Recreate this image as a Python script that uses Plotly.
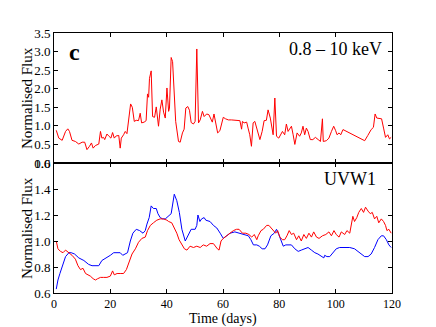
"""
Two-panel light curve: X-ray (0.8-10 keV) on top, UVW1 vs X-ray on bottom.
"""

import plotly.graph_objects as go

# Top panel: X-ray light curve
XRAY_T = [
    0.8, 1.7, 2.9, 4.1, 4.9, 5.5, 6.4, 7.6, 8.8, 10.0, 10.9, 11.7, 12.6, 13.3, 13.9, 14.7,
    15.9, 16.5, 17.0, 17.6, 18.0, 18.8, 19.4, 20.2, 20.8, 21.4, 22.1, 23.0, 23.5, 23.9,
    24.7, 25.3, 25.9, 26.5, 27.2, 27.8, 28.5, 29.2, 30.0, 30.6, 31.1, 32.0, 32.7, 33.2,
    33.6, 33.9, 34.5, 35.0, 35.7, 36.3, 37.1, 37.7, 38.3, 38.9, 39.5, 40.1, 40.7, 41.0,
    41.6, 42.1, 42.7, 43.2, 44.2, 44.8, 45.6, 46.2, 46.8, 47.5, 48.1, 48.7, 49.5, 50.1,
    50.7, 51.3, 51.9, 52.7, 53.3, 54.2, 55.0, 55.6, 56.2, 56.8, 57.4, 58.1, 58.9, 59.5,
    60.1, 60.9, 61.9, 63.0, 64.2, 65.4, 66.0, 66.6, 66.9, 67.5, 68.4, 68.9, 69.5, 70.1,
    70.7, 71.3, 72.3, 73.1, 73.9, 74.6, 75.4, 76.0, 76.8, 77.8, 78.4, 79.0, 79.8, 80.7,
    81.1, 81.9, 82.5, 83.1, 83.7, 84.3, 84.9, 85.5, 86.3, 87.2, 87.8, 88.4, 89.0, 89.6,
    90.2, 91.0, 91.9, 92.8, 93.8, 94.6, 95.3, 95.6, 96.7, 97.6, 98.5, 99.3, 100.0, 100.5,
    101.2, 101.8, 102.6, 103.8, 105.5, 107.9, 110.3, 111.4, 112.6, 113.4, 114.0, 114.6,
    115.6, 116.3, 117.0, 117.7, 118.5, 119.1, 119.7,
]
XRAY_FLUX = [
    0.88, 0.67, 0.61, 0.85, 0.92, 0.85, 0.61, 0.58, 0.51, 0.56, 0.56, 0.36, 0.45, 0.54, 0.40, 0.47,
    0.51, 0.85, 0.67, 0.69, 0.63, 0.78, 0.73, 0.67, 0.82, 0.67, 0.73, 0.74, 0.40, 0.67,
    0.76, 0.85, 0.79, 1.21, 1.59, 1.50, 1.12, 1.15, 1.14, 1.34, 1.08, 1.10, 1.14, 1.86,
    1.77, 2.28, 2.48, 1.25, 1.23, 1.51, 0.99, 1.45, 1.70, 1.37, 1.21, 2.02, 1.39, 1.48,
    2.84, 2.73, 2.02, 1.12, 0.58, 0.56, 0.81, 0.91, 1.48, 1.52, 1.42, 1.09, 1.05, 1.12,
    3.07, 1.08, 1.16, 1.39, 1.25, 1.32, 1.30, 1.21, 1.10, 1.32, 1.12, 0.81, 0.87, 1.08,
    1.23, 1.19, 1.16, 1.16, 1.15, 1.14, 1.14, 0.91, 1.12, 1.08, 1.10, 0.94, 0.76, 0.45,
    1.08, 1.12, 0.85, 0.63, 0.85, 1.14, 1.15, 1.43, 1.21, 0.76, 1.75, 0.72, 0.67, 0.81,
    0.85, 0.76, 1.05, 0.85, 0.94, 0.99, 0.76, 0.50, 0.81, 0.72, 0.81, 0.99, 0.76, 0.94,
    0.85, 0.63, 0.63, 0.69, 0.63, 0.58, 1.19, 0.58, 0.60, 0.67, 0.85, 0.99, 0.87, 0.76,
    0.81, 0.76, 0.90, 0.85, 0.78, 0.69, 0.60, 0.74, 0.90, 0.96, 1.32, 1.21,
    1.19, 1.19, 0.94, 0.69, 0.76, 0.65, 0.69,
]

# Bottom panel: UVW1 (blue)
UVW1_T = [
    0.8, 1.4, 2.1, 2.9, 4.1, 5.3, 6.1, 7.3, 8.8, 10.6, 12.3, 13.5, 14.7, 15.9, 17.0, 18.6,
    20.0, 21.2, 22.4, 23.5, 24.4, 25.3, 26.1, 27.1, 28.0, 29.2, 30.4, 31.6, 32.4, 33.0,
    33.8, 34.5, 35.3, 36.3, 36.9, 37.7, 38.6, 39.5, 40.4, 41.6, 42.7, 43.6, 44.5, 45.4,
    46.6, 47.5, 48.7, 50.1, 50.7, 51.1, 51.8, 52.4, 53.3, 53.9, 55.4, 56.6, 57.8, 59.0,
    60.1, 61.3, 62.5, 64.2, 66.0, 67.8, 69.0, 69.9, 70.8, 72.0, 72.9, 73.9, 74.9, 75.8,
    77.0, 78.2, 79.0, 79.8, 80.8, 81.4, 82.3, 83.5, 84.3, 85.5, 86.7, 87.8, 89.0, 90.2,
    91.4, 92.6, 93.7, 94.9, 95.8, 96.1, 96.9, 97.9, 99.1, 100.2, 101.4, 103.2, 105.0,
    106.7, 108.5, 110.3, 111.5, 112.6, 113.8, 115.0, 116.2, 117.0, 118.0, 118.9, 119.7,
]
UVW1_FLUX = [
    0.63, 0.70, 0.75, 0.81, 0.88, 0.91, 0.91, 0.90, 0.87, 0.85, 0.82, 0.81, 0.81, 0.81, 0.85, 0.87,
    0.89, 0.91, 0.91, 0.91, 0.89, 0.90, 0.91, 1.00, 1.06, 1.09, 1.08, 1.06, 1.08, 1.13,
    1.18, 1.27, 1.25, 1.25, 1.21, 1.18, 1.17, 1.17, 1.19, 1.21, 1.36, 1.31, 1.22, 1.09,
    1.00, 1.04, 1.09, 1.09, 1.12, 1.20, 1.15, 1.17, 1.18, 1.16, 1.15, 1.12, 1.10, 1.06,
    1.02, 1.04, 1.06, 1.07, 1.06, 1.05, 1.04, 1.01, 0.97, 0.97, 0.96, 0.94, 0.94, 0.97,
    1.04, 1.06, 1.09, 1.05, 0.99, 0.96, 0.97, 0.97, 0.97, 0.94, 0.92, 0.93, 0.94, 0.95,
    0.93, 0.91, 0.90, 0.88, 0.87, 0.89, 0.88, 0.88, 0.91, 0.94, 0.95, 0.95, 0.95,
    0.94, 0.91, 0.88, 0.88, 0.90, 0.95, 1.01, 1.04, 1.04, 1.01, 0.97, 0.95,
]

# Bottom panel: X-ray scaled (red)
XRAY_SM_T = [
    0.8, 1.4, 2.3, 3.2, 4.1, 4.7, 5.6, 6.4, 7.6, 8.5, 9.4, 10.3, 11.2, 12.1, 12.9, 13.9,
    14.7, 15.5, 16.5, 17.6, 18.8, 20.0, 20.8, 21.4, 22.4, 23.5, 24.7, 25.7, 26.5, 27.7,
    28.9, 30.0, 31.2, 32.4, 33.2, 34.2, 35.3, 36.5, 37.7, 38.9, 40.1, 40.7, 41.8, 42.8,
    43.6, 44.4, 45.4, 46.3, 47.2, 48.3, 49.5, 50.7, 51.9, 53.0, 54.2, 55.4, 56.6, 57.2,
    58.0, 58.6, 59.3, 60.1, 61.3, 62.5, 63.7, 64.8, 65.7, 66.9, 68.1, 69.2, 70.2, 71.1,
    72.0, 72.5, 73.5, 74.3, 75.5, 76.3, 77.0, 77.8, 78.7, 79.4, 80.2, 81.1, 81.9, 82.7,
    83.5, 84.3, 85.1, 86.1, 86.9, 87.8, 88.7, 89.6, 90.5, 91.4, 92.2, 93.2, 94.1, 95.3,
    96.5, 97.6, 98.5, 99.4, 100.2, 101.2, 102.0, 103.2, 104.0, 105.0, 105.5, 106.1,
    106.7, 107.5, 108.2, 109.1, 109.9, 110.6, 111.5, 112.3, 113.0, 113.8, 114.6, 115.3,
    116.2, 117.0, 117.7, 118.2, 118.9, 119.7,
]
XRAY_SM_FLUX = [
    1.00, 0.94, 0.92, 0.91, 0.93, 0.92, 0.90, 0.89, 0.86, 0.81, 0.78, 0.79, 0.75, 0.74, 0.73, 0.71,
    0.70, 0.71, 0.72, 0.72, 0.72, 0.73, 0.77, 0.74, 0.75, 0.75, 0.75, 0.78, 0.83, 0.90,
    0.94, 0.99, 1.02, 1.03, 1.08, 1.12, 1.14, 1.16, 1.17, 1.17, 1.16, 1.15, 1.14, 1.10,
    1.06, 1.01, 0.97, 0.94, 0.93, 0.96, 0.95, 0.96, 0.95, 0.97, 0.96, 0.98, 0.98, 0.96,
    0.94, 0.93, 1.00, 1.02, 1.04, 1.06, 1.08, 1.09, 1.09, 1.06, 1.06, 1.05, 1.03, 1.05,
    1.01, 1.04, 1.08, 1.09, 1.12, 1.12, 1.10, 1.08, 1.06, 1.08, 1.03, 1.01, 1.01, 1.04,
    1.08, 1.05, 1.06, 1.01, 1.04, 1.00, 1.05, 1.02, 1.06, 1.03, 1.07, 1.03, 1.02, 1.04,
    1.05, 1.07, 1.04, 1.08, 1.05, 1.03, 1.07, 1.05, 1.08, 1.06, 1.12, 1.19,
    1.15, 1.18, 1.22, 1.25, 1.22, 1.26, 1.23, 1.21, 1.22, 1.17, 1.19, 1.14,
    1.17, 1.15, 1.12, 1.08, 1.09, 1.06,
]

TOP_TICKS = [0.0, 0.5, 1.0, 1.5, 2.0, 2.5, 3.0, 3.5]
BOTTOM_TICKS = [0.6, 0.8, 1.0, 1.2, 1.4, 1.6]
X_TICKS = [0, 20, 40, 60, 80, 100, 120]

FONT = "Liberation Serif"
INK = "black"

_AXIS = dict(
    showline=True, linecolor=INK, linewidth=1, mirror="allticks",
    ticks="inside", ticklen=4, tickcolor=INK, tickwidth=1,
    showgrid=False, zeroline=False, automargin=False,
)
_TICKFONT = dict(family=FONT, size=13, color=INK)


def _label(text, x, y, size, xanchor="center", yanchor="middle", **kw):
    return dict(text=text, x=x, y=y, xref="paper", yref="paper", showarrow=False,
                xanchor=xanchor, yanchor=yanchor,
                font=dict(family=FONT, size=size, color=INK), **kw)


fig = go.Figure()

fig.add_trace(go.Scatter(
    x=XRAY_T, y=XRAY_FLUX, mode="lines", line=dict(color="red", width=1),
    xaxis="x", yaxis="y", showlegend=False,
))
fig.add_trace(go.Scatter(
    x=UVW1_T, y=UVW1_FLUX, mode="lines", line=dict(color="blue", width=1),
    xaxis="x2", yaxis="y2", showlegend=False,
))
fig.add_trace(go.Scatter(
    x=XRAY_SM_T, y=XRAY_SM_FLUX, mode="lines", line=dict(color="red", width=1),
    xaxis="x2", yaxis="y2", showlegend=False,
))

fig.update_layout(
    width=436, height=327,
    margin=dict(l=54, r=44, t=33, b=34),
    paper_bgcolor="white", plot_bgcolor="white",
    font=dict(family=FONT, size=13, color=INK),
    xaxis=dict(domain=[0, 1], anchor="y", range=[0, 120], tickvals=X_TICKS,
               showticklabels=False, **_AXIS),
    yaxis=dict(domain=[0.5, 1], anchor="x", range=[0, 3.5], tickvals=TOP_TICKS,
               tickformat=".1f", tickfont=_TICKFONT, **_AXIS),
    xaxis2=dict(domain=[0, 1], anchor="y2", range=[0, 120], tickvals=X_TICKS,
                tickfont=dict(family=FONT, size=12, color=INK), **_AXIS),
    yaxis2=dict(domain=[0, 0.5], anchor="x2", range=[0.6, 1.6], tickvals=BOTTOM_TICKS,
                tickformat=".1f", tickfont=_TICKFONT, **_AXIS),
    annotations=[
        # axis titles placed by hand (matplotlib-like spacing)
        _label("Normalised Flux", -0.08, 0.75, 15, textangle=-90),
        _label("Normalised Flux", -0.08, 0.25, 15, textangle=-90),
        _label("Time (days)", 0.5, -0.1, 14),
        # panel labels
        _label("<b>c</b>", 0.062, 0.985, 24, yanchor="top"),
        _label("0.8 – 10 keV", 0.975, 0.985, 18, xanchor="right", yanchor="top"),
        _label("UVW1", 0.96, 0.485, 18, xanchor="right", yanchor="top"),
    ],
)

# page has a default 8px body margin that would shift the figure
fig.write_html("out.html", config={"displayModeBar": False},
               post_script="document.body.style.margin='0';")
